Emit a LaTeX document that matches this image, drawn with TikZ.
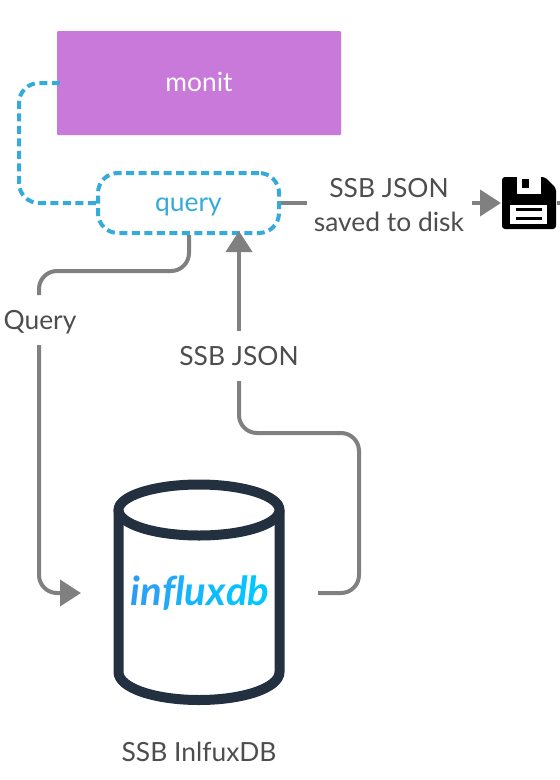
\documentclass[tikz,border=0pt]{standalone}
\usepackage{fontspec}
\setmainfont{Lato}
\usepackage{xcolor}
\usetikzlibrary{arrows.meta,calc,shapes.geometric}
\definecolor{monitfill}{HTML}{C879D9}
\definecolor{queryblue}{HTML}{34ABDA}
\definecolor{linkgrey}{HTML}{808080}
\definecolor{labelgrey}{HTML}{4D4D4D}
\definecolor{dbdark}{HTML}{233040}
\begin{document}
\begin{tikzpicture}[
    x=1pt, y=-1pt,
    every node/.style={font=\fontsize{26.4}{30}\selectfont},
    txt/.style={text height=16pt, text depth=0pt},
    box/.style={txt, fill=monitfill, rounded corners=1pt, text=white, minimum width=284pt, minimum height=104pt, inner sep=0pt},
    querybox/.style={txt, draw=queryblue, line width=4pt, dash pattern=on 8pt off 4.5pt, rounded corners=20pt, text=queryblue, minimum width=181pt, minimum height=60pt, inner sep=0pt},
    lbl/.style={txt, text=labelgrey, inner sep=0pt},
    dashlink/.style={draw=queryblue, line width=4pt, dash pattern=on 8pt off 4.5pt, rounded corners=20pt},
    link/.style={draw=linkgrey, line width=4pt, rounded corners=18pt},
    arrowlink/.style={link, -{Triangle[length=21pt, width=26pt]}},
    db/.style={draw=dbdark, line width=10pt, fill=none}
  ]
    \useasboundingbox (0,0) rectangle (560,780);

    \node[box] (monit) at (199,83) {monit};
    \node[querybox] (query) at (188.5,203) {query};
    \node[lbl] (diskleft) at (389,189) {SSB JSON};
    \node[lbl] (diskright) at (389,223) {saved to disk};
    \node[lbl] (qlabel) at (40,321) {Query};
    \node[lbl] (jsonlabel) at (239,357) {SSB JSON};
    \node[lbl] (dblabel) at (199,753) {SSB InlfuxDB};

    % database
    \coordinate (dbleft) at (118.5,510);
    \coordinate (dbright) at (279.5,510);
    \draw[db] (199,510) ellipse [x radius=80.5, y radius=25.5];
    \draw[db] (dbleft) -- (118.5,672) .. controls (118.5,688) and (155,700) .. (199,700)
      .. controls (243,700) and (279.5,688) .. (279.5,672) -- (dbright);
    \node[inner sep=0pt, font=\fontsize{40}{42}\selectfont\bfseries\itshape] (influx) at (200,593)
      {\textcolor[HTML]{2E9BF5}{i}\textcolor[HTML]{2AA2F7}{n}\textcolor[HTML]{22A9F9}{f}\textcolor[HTML]{1CB0FB}{l}\textcolor[HTML]{14B6FC}{u}\textcolor[HTML]{0CBCFD}{x}\textcolor[HTML]{06C2FE}{d}\textcolor[HTML]{00C8FF}{b}};

    % floppy disk
    \fill[black, rounded corners=3pt] (502,177) -- (545,177) -- (556,188) -- (556,229) -- (502,229) -- cycle;
    \fill[white] (517,177) rectangle (541,194);
    \fill[black] (522,179) rectangle (529,188);
    \fill[white] (510,205) rectangle (547,224);
    \fill[black] (516,208) rectangle (542,211);
    \fill[black] (516,217) rectangle (542,220);

    % connectors
    \draw[dashlink] (monit.west) ++(3,0) -- (19,83) -- (19,203) -- (query.west);
    \draw[link] (query.south -| 189,233) -- (189,271) -- (39,271) -- (39,295);
    \coordinate (qin) at (39,345);
    \draw[arrowlink] (qin) -- (39,593) -- (81,593);
    \coordinate (dbout) at (318,593);
    \draw[link] (dbout) -- (359,593) -- (359,433) -- (239,433) -- (239,381);
    \coordinate (jsonup) at (239,331);
    \draw[arrowlink] (jsonup) -- (239,231);
    \draw[link] (query.east) -- (307,203);
    \coordinate (diskin) at (501,203);
    \coordinate (diskout) at (556,203);
    \draw[arrowlink] (472,203) -- (diskin);
    \draw[link] (diskout) ++(1,0) -- (560,203);
\end{tikzpicture}
\end{document}
